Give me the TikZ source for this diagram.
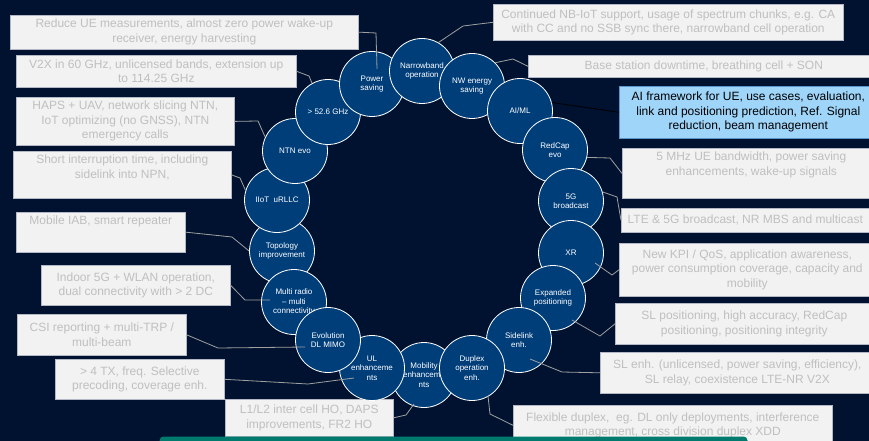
\documentclass[tikz,border=0pt]{standalone}
\usepackage{fontspec}
\setmainfont{Liberation Sans}
\usetikzlibrary{calc}

\definecolor{navy}{RGB}{1,18,48}
\definecolor{cfill}{RGB}{0,62,122}
\definecolor{gfill}{RGB}{242,242,242}
\definecolor{gtext}{RGB}{191,191,191}
\definecolor{gline}{RGB}{180,184,196}
\definecolor{aifill}{RGB}{160,213,250}
\definecolor{ailine}{RGB}{90,150,200}
\definecolor{conn}{RGB}{160,160,160}
\definecolor{tealc}{RGB}{0,122,108}

\begin{document}
\begin{tikzpicture}[x=1pt,y=-1pt]
  \clip (0,0) rectangle (869,441);
  \fill[navy] (0,0) rectangle (869,441);

  \begin{scope}[every node/.style={rectangle, draw=gline, line width=0.6pt, fill=gfill, text=gtext,
      anchor=north west, align=center, inner xsep=2pt, inner ysep=4pt,
      font=\fontsize{12}{14.5}\selectfont}]
    \node[minimum width=348pt, minimum height=32pt] (b1) at (10,15) {Reduce UE measurements, almost zero power wake-up\\receiver, energy harvesting};
    \node[minimum width=280pt, minimum height=32pt] (b2) at (16,55) {V2X in 60 GHz, unlicensed bands, extension up\\to 114.25 GHz};
    \node[minimum width=218pt, minimum height=47pt] (b3) at (16,97) {HAPS + UAV, network slicing NTN,\\IoT optimizing (no GNSS), NTN\\emergency calls};
    \node[minimum width=218pt, text depth=16pt] (b4) at (13,151) {Short interruption time, including\\sidelink into NPN,};
    \node[minimum width=169pt, text depth=23pt] (b5) at (16,212) {Mobile IAB, smart repeater};
    \node[minimum width=189pt, minimum height=40pt] (b6) at (41,265) {Indoor 5G + WLAN operation,\\dual connectivity with > 2 DC};
    \node[minimum width=169pt, minimum height=41pt] (b7) at (17,314) {CSI reporting + multi-TRP /\\multi-beam};
    \node[minimum width=169pt, minimum height=40pt] (b8) at (55,359) {> 4 TX, freq. Selective\\precoding, coverage enh.};
    \node[minimum width=168pt, minimum height=37pt] (b9) at (225,399) {L1/L2 inter cell HO, DAPS\\improvements, FR2 HO};
    \node[minimum width=350pt, minimum height=36pt] (b10) at (493,4) {Continued NB-IoT support, usage of spectrum chunks, e.g. CA\\with CC and no SSB sync there, narrowband cell operation};
    \node[minimum width=351pt, minimum height=22pt] (b11) at (528,55) {Base station downtime, breathing cell + SON};
    \node[minimum width=258pt, minimum height=52pt, fill=aifill, draw=ailine, text=black] (b12) at (619,86) {AI framework for UE, use cases, evaluation,\\link and positioning prediction, Ref. Signal\\reduction, beam management};
    \node[minimum width=258pt, text depth=19pt] (b13) at (622,148) {5 MHz UE bandwidth, power saving\\enhancements, wake-up signals};
    \node[minimum width=248pt, minimum height=24pt] (b14) at (621,208) {LTE \& 5G broadcast, NR MBS and multicast};
    \node[minimum width=256pt, minimum height=53pt] (b15) at (619,243) {New KPI / QoS, application awareness,\\power consumption coverage, capacity and\\mobility};
    \node[minimum width=258pt, minimum height=41pt] (b16) at (615,303) {SL positioning, high accuracy, RedCap\\positioning, positioning integrity};
    \node[minimum width=274pt, minimum height=41pt] (b17) at (600,352) {SL enh. (unlicensed, power saving, efficiency),\\SL relay, coexistence LTE-NR V2X};
    \node[minimum width=319pt, minimum height=40pt] (b18) at (513,405) {Flexible duplex,\ \ eg. DL only deployments, interference\\management, cross division duplex XDD};
  \end{scope}

  \begin{scope}[every node/.style={circle, draw=white, line width=0.8pt, fill=cfill, text=white,
      minimum size=65pt, inner sep=0pt, align=center, font=\fontsize{8}{9.5}\selectfont}]
    \node (tp) at (282,251) {Topology\\improvement};
    \node (ii) at (277,200) {IIoT\ \ uRLLC};
    \node (ntn) at (295,151) {NTN evo};
    \node (ghz) at (328,112) {> 52.6 GHz};
    \node (ps) at (372,84) {Power\\saving};
    \node (nb) at (422,71) {Narrowband\\operation};
    \node (nw) at (472,86) {NW energy\\saving};
    \node (ai) at (520,111) {AI/ML};
    \node (rc) at (555,150) {RedCap\\evo};
    \node (bc) at (571,201) {5G\\broadcast};
    \node (xr) at (571,253) {XR};
    \node (ep) at (553,298) {Expanded\\positioning};
    \node (sl) at (519,340) {Sidelink\\enh.};
    \node (mo) at (424,375) {Mobility\\enhanceme\\nts};
    \node (dx) at (472,368) {Duplex\\operation\\enh.};
    \node (ul) at (372,368) {UL\\enhanceme\\nts};
    \node (mr) at (294,302) {Multi radio\\-- multi\\connectivity};
    \node (dl) at (328,340) {Evolution\\DL MIMO};
  \end{scope}

  \begin{scope}[conn, line width=0.8pt]
    \draw (b1.east) -- (376,33) -- ($(ps)+(5,-15)$);
    \draw (b2.east) -- (309,76) -- (ghz.119);
    \draw (b3.east) -- (258,121) -- (ntn.155);
    \draw (b4.east) -- (240,178) -- (ii.163);
    \draw (b5.east) -- (232,237) -- (tp.180);
    \draw (b6.east) -- (245,300) -- ($(mr)+(-24,-2)$);
    \draw (b7.east) -- (218,348) -- ($(dl)+(-23,7)$);
    \draw (b8.east) -- (308,384) -- ($(ul)+(-18,10)$);
    \draw (b9.east) -- (406,415) -- ($(mo)+(-10,29)$);
    \draw (b10.west) -- (463,26) -- (nb.60);
    \draw (nw.45) -- (513,59) -- (b11.west);
    \draw[black] (ai.15) -- (b12.west);
    \draw (rc.-13) -- (610,158) -- (b13.west);
    \draw (bc.16) -- (617,197) -- (b14.west);
    \draw ($(xr)+(24,10)$) -- (612,275) -- (b15.west);
    \draw ($(ep)+(19,22)$) -- (600,336) -- (b16.west);
    \draw ($(sl)+(11,19)$) -- (562,372) -- (b17.west);
    \draw ($(dx)+(16,28)$) -- (490,414) -- (b18.west);
  \end{scope}

  \node[rectangle, draw=tealc, line width=5pt, fill=white, rounded corners=2pt, anchor=north west,
    minimum width=583pt, minimum height=40pt] (tb) at (159.5,436.5) {};
\end{tikzpicture}
\end{document}
